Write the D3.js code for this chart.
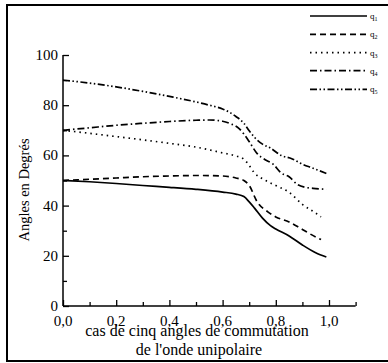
<!DOCTYPE html>
<html>
<head>
<meta charset="utf-8">
<script src="https://cdn.jsdelivr.net/npm/d3@7"></script>
<style>
  body { margin: 0; background: #fff; }
  svg text { font-family: "Liberation Serif", "Times New Roman", serif; fill: #000; }
</style>
</head>
<body>
<svg width="388" height="363"></svg>
<script>
// data
const q1X = [0, 0.1, 0.2, 0.3, 0.4, 0.5, 0.6, 0.65, 0.68, 0.7, 0.72, 0.75, 0.78, 0.8, 0.85, 0.9, 0.95, 0.99];
const q1Y = [50, 49.5, 48.8, 48, 47.3, 46.5, 45.4, 44.6, 43.6, 41.5, 39, 35, 32, 30.7, 27.9, 24.3, 21.2, 19.5];

const q2X = [0, 0.1, 0.2, 0.3, 0.4, 0.5, 0.6, 0.65, 0.68, 0.7, 0.73, 0.77, 0.8, 0.85, 0.9, 0.95, 0.97];
const q2Y = [50, 50.5, 51, 51.5, 51.8, 52, 51.8, 51, 50, 48, 41.5, 37.5, 35.5, 33.5, 30.5, 27.5, 26.5];

const q3X = [0, 0.1, 0.2, 0.3, 0.4, 0.5, 0.6, 0.65, 0.68, 0.7, 0.72, 0.75, 0.8, 0.85, 0.9, 0.95, 0.97];
const q3Y = [70, 68.8, 67.5, 66.2, 64.8, 63.3, 61, 59.8, 58.5, 56, 53, 50.7, 48, 45.3, 40.5, 37, 35.5];

const q4X = [0, 0.1, 0.2, 0.3, 0.4, 0.5, 0.55, 0.6, 0.63, 0.66, 0.68, 0.7, 0.73, 0.76, 0.79, 0.82, 0.85, 0.88, 0.91, 0.95, 0.99];
const q4Y = [70, 71, 72, 72.8, 73.5, 74, 74.1, 73.6, 72.6, 70.9, 68.5, 65.5, 60.7, 58.3, 56.5, 53, 51.5, 48.5, 47.3, 46.8, 46.5];

const q5X = [0, 0.1, 0.2, 0.3, 0.4, 0.5, 0.55, 0.6, 0.65, 0.68, 0.7, 0.72, 0.75, 0.78, 0.82, 0.86, 0.9, 0.94, 0.99];
const q5Y = [90, 88.8, 87.3, 85.5, 83.5, 81.3, 80, 78.5, 75.5, 72.8, 69.8, 67.2, 64.5, 62.9, 60, 58.7, 56.5, 54.9, 52.8];

const seriesNames = ['1', '2', '3', '4', '5'];
const xTicks = [0, 0.2, 0.4, 0.6, 0.8, 1.0];
const yTicks = [0, 20, 40, 60, 80, 100];

const dashes = ['none', '6,4', '1.5,4', '7,3,1.5,3', '7,2.5,1.5,2.5,1.5,2.5'];

const series = [
  [q1X, q1Y], [q2X, q2Y], [q3X, q3Y], [q4X, q4Y], [q5X, q5Y]
].map(([xs, ys], i) => ({ name: seriesNames[i], dash: dashes[i], pts: xs.map((x, j) => [x, ys[j]]) }));

const svg = d3.select('svg');

// outer frame
svg.append('rect')
  .attr('x', 7).attr('y', 5)
  .attr('width', 400).attr('height', 356)
  .attr('fill', 'none').attr('stroke', '#000').attr('stroke-width', 2);

const x = d3.scaleLinear().domain([0, 1.1]).range([63, 355.6]);
const y = d3.scaleLinear().domain([0, 100]).range([306, 55]);

const fmt = d => d3.format('.1f')(d).replace('.', ',');

// x axis
const gx = svg.append('g').attr('transform', `translate(0,${y(0)})`);
gx.call(d3.axisBottom(x).tickValues(d3.range(0, 1.11, 0.1)).tickSize(-6).tickFormat(''))
gx.selectAll('.tick line')
  .attr('y2', (d, i) => i % 2 === 0 ? -6 : -4)
  .attr('stroke-width', 1.3);
gx.select('.domain').attr('stroke-width', 1.5).attr('d', `M${x(0)},0H${x(1.1)}`);
gx.selectAll('.xl').data(xTicks).enter().append('text')
  .attr('class', 'xl')
  .attr('x', d => x(d)).attr('y', 20)
  .attr('text-anchor', 'middle')
  .attr('font-size', 15)
  .text(fmt);

// y axis
const gy = svg.append('g').attr('transform', `translate(${x(0)},0)`);
gy.call(d3.axisLeft(y).tickValues(d3.range(0, 101, 10)).tickSize(-6).tickFormat(''));
gy.selectAll('.tick line')
  .attr('x2', (d, i) => i % 2 === 0 ? 6 : 4)
  .attr('stroke-width', 1.3);
gy.select('.domain').attr('stroke-width', 1.5).attr('d', `M0,${y(0)}V${y(100)}`);
gy.selectAll('.yl').data(yTicks).enter().append('text')
  .attr('class', 'yl')
  .attr('x', -5).attr('y', d => y(d) + 5)
  .attr('text-anchor', 'end')
  .attr('font-size', 15)
  .text(d => d);

// lines
const line = d3.line().x(d => x(d[0])).y(d => y(d[1])).curve(d3.curveMonotoneX);
svg.append('g').selectAll('path').data(series).enter().append('path')
  .attr('d', d => line(d.pts))
  .attr('fill', 'none')
  .attr('stroke', '#000')
  .attr('stroke-width', 1.7)
  .attr('stroke-dasharray', d => d.dash);

// axis titles
svg.append('text')
  .attr('transform', 'translate(29,190) rotate(-90)')
  .attr('text-anchor', 'middle')
  .attr('font-size', 14.5)
  .text('Angles en Degrés');
svg.append('text')
  .attr('x', 197).attr('y', 336)
  .attr('text-anchor', 'middle')
  .attr('font-size', 16)
  .text('cas de cinq angles de commutation');
svg.append('text')
  .attr('x', 199).attr('y', 355)
  .attr('text-anchor', 'middle')
  .attr('font-size', 16)
  .text("de l'onde unipolaire");

// legend
const lg = svg.append('g').selectAll('g').data(series).enter().append('g')
  .attr('transform', (d, i) => `translate(310,${[16, 34.3, 52.7, 70.7, 89.3][i]})`);
lg.append('line')
  .attr('x1', 0).attr('x2', 57)
  .attr('stroke', '#000').attr('stroke-width', 1.7)
  .attr('stroke-dasharray', d => d.dash);
const lt = lg.append('text').attr('x', 60).attr('y', 3).attr('font-size', 9);
lt.append('tspan').text('q');
lt.append('tspan').attr('font-size', 6).attr('dy', 2).text(d => d.name);
</script>
</body>
</html>
